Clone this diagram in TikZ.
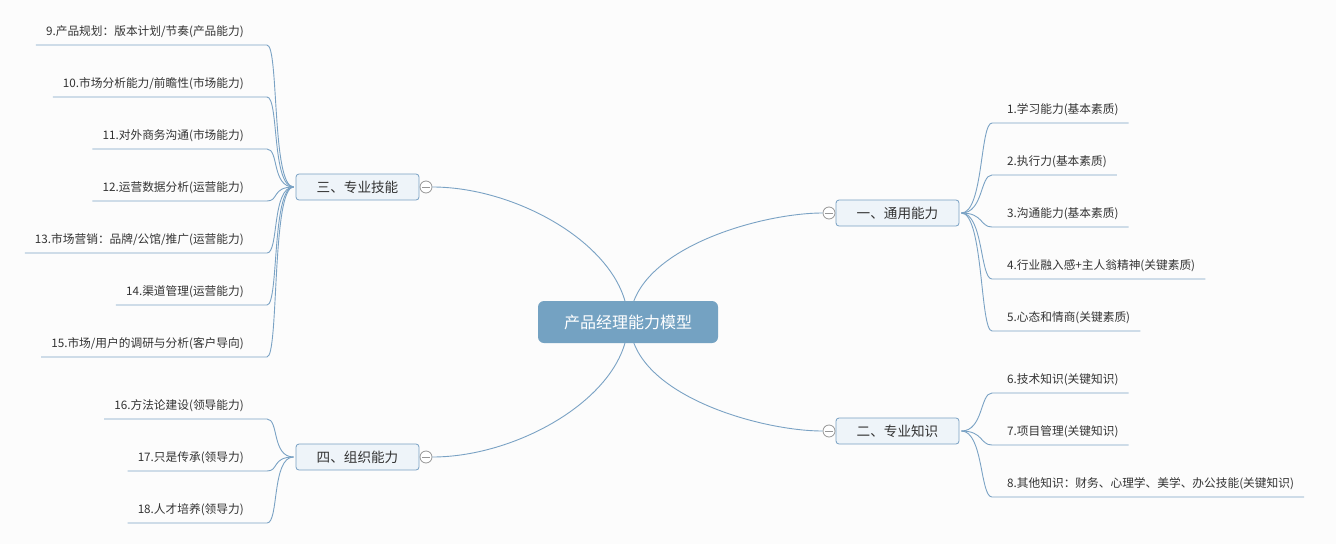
\documentclass[tikz,border=0pt]{standalone}
\usepackage{fontspec}
\newfontfamily\cjkf{Noto Sans CJK SC}
\usetikzlibrary{calc}
\definecolor{bgc}{RGB}{252,252,252}
\definecolor{lnc}{RGB}{122,162,196}
\definecolor{bordc}{RGB}{120,160,195}
\definecolor{bfill}{RGB}{238,244,249}
\definecolor{rootc}{RGB}{116,162,194}
\definecolor{txtc}{RGB}{51,51,51}
\definecolor{knobc}{RGB}{150,150,150}
\tikzset{
  conn/.style={draw=lnc, line width=0.9pt},
  leafR/.style={anchor=base west, inner sep=0pt, text=txtc, font=\cjkf\fontsize{11.7}{14}\selectfont},
  leafL/.style={anchor=base east, inner sep=0pt, text=txtc, font=\cjkf\fontsize{11.7}{14}\selectfont},
  branchbox/.style={draw=bordc, fill=bfill, line width=0.8pt, rounded corners=3pt, minimum width=123pt, minimum height=26pt, inner sep=0pt, text=txtc, font=\cjkf\fontsize{13.6}{16}\selectfont},
  rootbox/.style={fill=rootc, rounded corners=6pt, minimum width=180pt, minimum height=42pt, inner sep=0pt, text=white, font=\cjkf\fontsize{16}{19}\selectfont},
  knob/.style={circle, draw=knobc, fill=white, line width=0.8pt, minimum size=12pt, inner sep=0pt},
  knobbar/.style={draw=knobc, line width=0.8pt}
}
\begin{document}
\begin{tikzpicture}[x=1pt,y=-1pt]
\useasboundingbox[fill=bgc] (0,0) rectangle (1336,544);

% collapse knobs
\node[knob] (k1) at (829,213) {};
\node[knob] (k2) at (829,431) {};
\node[knob] (k3) at (426,187) {};
\node[knob] (k4) at (426,457) {};
\foreach \k in {k1,k2,k3,k4}{\draw[knobbar] ($(\k.center)+(-4,0)$) -- ($(\k.center)+(4,0)$);}

% main connectors (drawn before root so root covers their start)
\coordinate (cr) at (630,322);
\coordinate (cl) at (628,322);
\draw[conn] (cr) .. controls +(0,-72) and +(-63,0) .. (k1.west);
\draw[conn] (cr) .. controls +(0,72) and +(-63,0) .. (k2.west);
\draw[conn] (cl) .. controls +(0,-72) and +(88,0) .. (k3.east);
\draw[conn] (cl) .. controls +(0,72) and +(88,0) .. (k4.east);

\node[rootbox] (c) at (628,322) {产品经理能力模型};

% branch boxes
\node[branchbox] (b1) at (897.5,213) {一、通用能力};
\node[branchbox] (b2) at (897.5,431) {二、专业知识};
\node[branchbox] (b3) at (357.5,187) {三、专业技能};
\node[branchbox] (b4) at (357.5,457) {四、组织能力};

% right leaves
\foreach \n/\y/\t/\b in {
  1/123/{1.学习能力(基本素质)}/b1,
  2/175/{2.执行力(基本素质)}/b1,
  3/227/{3.沟通能力(基本素质)}/b1,
  4/279/{4.行业融入感+主人翁精神(关键素质)}/b1,
  5/331/{5.心态和情商(关键素质)}/b1,
  6/393/{6.技术知识(关键知识)}/b2,
  7/445/{7.项目管理(关键知识)}/b2,
  8/497/{8.其他知识：财务、心理学、美学、办公技能(关键知识)}/b2}{
  \coordinate (s\n) at (992,\y);
  \node[leafR] (l\n) at (1007,\y-9.5) {\t};
  \draw[conn] ($(\b.east)+(2,0)$) .. controls +(22,0) and +(-12,0) .. (s\n) -- ($(s\n -| l\n.east)+(10,0)$);
}

% left leaves
\foreach \n/\y/\t/\b in {
  9/45/{9.产品规划：版本计划/节奏(产品能力)}/b3,
  10/97/{10.市场分析能力/前瞻性(市场能力)}/b3,
  11/149/{11.对外商务沟通(市场能力)}/b3,
  12/201/{12.运营数据分析(运营能力)}/b3,
  13/253/{13.市场营销：品牌/公馆/推广(运营能力)}/b3,
  14/305/{14.渠道管理(运营能力)}/b3,
  15/357/{15.市场/用户的调研与分析(客户导向)}/b3,
  16/419/{16.方法论建设(领导能力)}/b4,
  17/471/{17.只是传承(领导力)}/b4,
  18/523/{18.人才培养(领导力)}/b4}{
  \coordinate (s\n) at (267,\y);
  \node[leafL] (l\n) at (244,\y-9.5) {\t};
  \draw[conn] ($(\b.west)+(-2,0)$) .. controls +(-22,0) and +(12,0) .. (s\n) -- ($(s\n -| l\n.west)+(-10,0)$);
}
\end{tikzpicture}
\end{document}
